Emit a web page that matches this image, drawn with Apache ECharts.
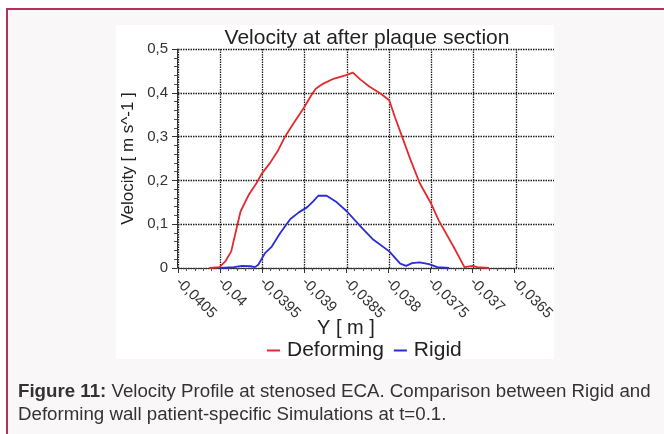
<!DOCTYPE html>
<html>
<head>
<meta charset="utf-8">
<script src="https://cdn.jsdelivr.net/npm/echarts@6/dist/echarts.min.js"></script>
<style>
html,body{margin:0;padding:0;background:#ffffff;}
#chart{width:664px;height:434px;}
</style>
</head>
<body>
<div id="chart"></div>
<script>
// ---- data ----
const deformX = [-0.04013, -0.04001, -0.03994, -0.03987, -0.03981, -0.03976, -0.03966, -0.03957, -0.03951, -0.03941, -0.03932, -0.03923, -0.03913, -0.03901, -0.03893, -0.03887, -0.03878, -0.03866, -0.03852, -0.03843, -0.03834, -0.03824, -0.0381, -0.0380, -0.03793, -0.03785, -0.03775, -0.03764, -0.03751, -0.03741, -0.03724, -0.03711, -0.03701, -0.03696, -0.03682];
const deformY = [0, 0.002, 0.015, 0.038, 0.088, 0.129, 0.168, 0.194, 0.215, 0.24, 0.267, 0.301, 0.331, 0.366, 0.392, 0.409, 0.421, 0.432, 0.44, 0.446, 0.43, 0.415, 0.398, 0.383, 0.343, 0.301, 0.248, 0.194, 0.149, 0.107, 0.049, 0.002, 0.005, 0.002, 0];
const rigidX = [-0.0400, -0.03984, -0.03974, -0.03964, -0.03959, -0.03955, -0.03947, -0.03939, -0.03929, -0.03917, -0.03907, -0.03897, -0.0389, -0.03884, -0.03874, -0.03862, -0.0385, -0.03834, -0.03819, -0.038, -0.03787, -0.0378, -0.03773, -0.03764, -0.03753, -0.03743, -0.03729];
const rigidY = [0, 0.002, 0.005, 0.004, 0.002, 0.0075, 0.034, 0.049, 0.08, 0.112, 0.127, 0.139, 0.152, 0.165, 0.165, 0.15, 0.129, 0.095, 0.065, 0.038, 0.01, 0.005, 0.011, 0.013, 0.009, 0.002, 0];
const seriesNames = ['Deforming', 'Rigid'];
const titleText = 'Velocity at after plaque section';
const xName = 'Y [ m ]';
const yName = 'Velocity [ m s^-1 ]';
const captionBold = 'Figure 11:';
const captionRest = ' Velocity Profile at stenosed ECA. Comparison between Rigid and';
const captionLine2 = 'Deforming wall patient-specific Simulations at t=0.1.';

const FONT = '"Liberation Sans", Arial, sans-serif';
const zip = (xs, ys) => xs.map((x, i) => [x, ys[i]]);
const comma = v => String(+(+v).toFixed(5)).replace('.', ',');
const gridLine = {show: true, lineStyle: {color: '#1e1e1e', width: 1.3, type: [1.5, 1]}};

const chart = echarts.init(document.getElementById('chart'), null, {renderer: 'canvas'});
chart.setOption({
  animation: false,
  backgroundColor: '#ffffff',
  graphic: [
    {type: 'rect', z: -100, shape: {x: 6, y: 8, width: 660, height: 430}, style: {fill: '#f9f7f8'}},
    {type: 'rect', z: -99, shape: {x: 6, y: 8, width: 660, height: 2}, style: {fill: '#b3305a'}},
    {type: 'rect', z: -99, shape: {x: 6, y: 8, width: 2, height: 430}, style: {fill: '#b3305a'}},
    {type: 'rect', z: -98, shape: {x: 116, y: 25, width: 438, height: 334}, style: {fill: '#ffffff'}},
    {type: 'text', z: 10, left: 18, top: 380, style: {
      text: '{b|' + captionBold + '}' + captionRest + '\n' + captionLine2,
      font: '18.7px ' + FONT, fill: '#333333', lineHeight: 23,
      rich: {b: {fontWeight: 'bold', fontSize: 18.7, fontFamily: FONT, fill: '#333333', lineHeight: 23}}
    }}
  ],
  title: {
    text: titleText, left: 362, top: 23, textAlign: 'center',
    textStyle: {fontFamily: FONT, fontSize: 21, fontWeight: 'normal', color: '#222'}
  },
  legend: {
    left: 262, top: 335, itemWidth: 13, itemHeight: 2, itemGap: 10, icon: 'rect',
    textStyle: {fontFamily: FONT, fontSize: 21, color: '#222', padding: [0, 0, 0, 2]},
    data: seriesNames
  },
  grid: [
    {left: 178, top: 49, width: 376, height: 219},
    {left: 178, top: 49, width: 336, height: 219}
  ],
  xAxis: [
    {type: 'value', gridIndex: 0, min: -0.0405, max: -0.03605, interval: 0.0005,
     axisLine: {show: false}, axisTick: {show: false}, axisLabel: {show: false},
     splitLine: Object.assign({showMinLine: true, showMaxLine: false}, gridLine)},
    {type: 'value', gridIndex: 1, min: -0.0405, max: -0.0365, interval: 0.0005, offset: 4,
     axisLine: {show: true, lineStyle: {color: '#333', width: 1}},
     axisTick: {show: true, length: 5, lineStyle: {color: '#333'}},
     minorTick: {show: true, splitNumber: 5, length: 3, lineStyle: {color: '#555'}},
     splitLine: {show: false},
     axisLabel: {rotate: -45, margin: 8, formatter: comma, fontFamily: FONT, fontSize: 15, color: '#333'},
     name: xName, nameLocation: 'middle', nameGap: 46, nameMoveOverlap: false,
     nameTextStyle: {fontFamily: FONT, fontSize: 20, color: '#222'}}
  ],
  yAxis: [
    {type: 'value', gridIndex: 0, min: 0, max: 0.5, interval: 0.1, offset: 1,
     axisLine: {show: true, lineStyle: {color: '#333', width: 1}},
     axisTick: {show: true, length: 5, lineStyle: {color: '#333'}},
     minorTick: {show: true, splitNumber: 5, length: 3, lineStyle: {color: '#555'}},
     axisLabel: {formatter: comma, margin: 9, fontFamily: FONT, fontSize: 15, color: '#333'},
     splitLine: Object.assign({showMinLine: true, showMaxLine: true}, gridLine),
     name: yName, nameLocation: 'middle', nameGap: 40, nameRotate: 90, nameMoveOverlap: false,
     nameTextStyle: {fontFamily: FONT, fontSize: 17, color: '#222'}},
    {type: 'value', gridIndex: 1, min: 0, max: 0.5, show: false}
  ],
  series: [
    {name: seriesNames[0], type: 'line', xAxisIndex: 0, yAxisIndex: 0, data: zip(deformX, deformY),
     showSymbol: false, symbol: 'none', lineStyle: {color: '#e42a2e', width: 1.8}, itemStyle: {color: '#e42a2e'}, z: 5},
    {name: seriesNames[1], type: 'line', xAxisIndex: 0, yAxisIndex: 0, data: zip(rigidX, rigidY),
     showSymbol: false, symbol: 'none', lineStyle: {color: '#2b2bd8', width: 1.8}, itemStyle: {color: '#2b2bd8'}, z: 5}
  ]
});
</script>
</body>
</html>
